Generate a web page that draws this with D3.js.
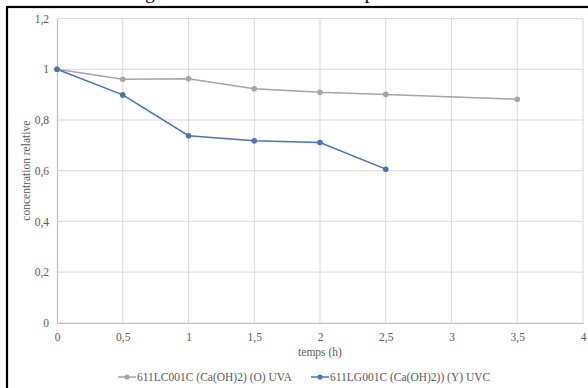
<!DOCTYPE html>
<html>
<head>
<meta charset="utf-8">
<script src="https://cdn.jsdelivr.net/npm/d3@7"></script>
<style>
  html, body { margin: 0; padding: 0; background: #fff; }
  svg { display: block; }
  svg text { font-family: "Liberation Serif", "Times New Roman", serif !important; fill: #595959; }
</style>
</head>
<body>
<svg id="chart" width="588" height="388"></svg>
<script>
// Series: relative concentration vs exposure time (h)
const timesUVA = [0, 0.5, 1, 1.5, 2, 2.5, 3.5];
const valuesUVA = [1, 0.961, 0.963, 0.923, 0.909, 0.901, 0.882];
const timesUVC = [0, 0.5, 1, 1.5, 2, 2.5];
const valuesUVC = [1, 0.899, 0.738, 0.718, 0.711, 0.606];
const seriesNames = ["611LC001C (Ca(OH)2) (O) UVA", "611LG001C (Ca(OH)2)) (Y) UVC"];
const seriesColors = ["#a5a5a5", "#4472c4"];
const xTicks = [0, 0.5, 1, 1.5, 2, 2.5, 3, 3.5, 4];
const yTicks = [0, 0.2, 0.4, 0.6, 0.8, 1, 1.2];

const svg = d3.select("#chart");
const W = 588, H = 388;
const plot = { left: 57, right: 583, top: 18.6, bottom: 322.8 };

const fmt = v => String(+v.toFixed(2)).replace(".", ",");

const x = d3.scaleLinear().domain([0, 4]).range([plot.left, plot.right]);
const y = d3.scaleLinear().domain([0, 1.2]).range([plot.bottom, plot.top]);

// chart frame
svg.append("rect").attr("x", 0).attr("y", 0).attr("width", W).attr("height", H).attr("fill", "#fff");
svg.append("rect")
  .attr("x", 7).attr("y", 7).attr("width", W + 10).attr("height", H + 10)
  .attr("fill", "none").attr("stroke", "#000").attr("stroke-width", 2.2);

// title (sits mostly above the visible frame)
svg.append("text")
  .attr("x", 123).attr("y", -1.5)
  .style("font-size", "19px").style("fill", "#000")
  .text("Dégradation en fonction du temps");

// gridlines
const grid = svg.append("g");
grid.selectAll("line.h").data(yTicks.filter(d => d > 0)).join("line")
  .attr("x1", plot.left).attr("x2", plot.right)
  .attr("y1", d => y(d)).attr("y2", d => y(d))
  .attr("stroke", "#d9d9d9").attr("stroke-width", 1);
grid.selectAll("line.v").data(xTicks.filter(d => d > 0)).join("line")
  .attr("y1", plot.top).attr("y2", plot.bottom)
  .attr("x1", d => x(d)).attr("x2", d => x(d))
  .attr("stroke", "#d9d9d9").attr("stroke-width", 1);

// axes
const xAxis = svg.append("g").attr("transform", `translate(0,${plot.bottom})`)
  .call(d3.axisBottom(x).tickValues(xTicks).tickSize(0).tickPadding(10).tickFormat(fmt))
  .attr("font-family", null).attr("font-size", null);
xAxis.select(".domain").attr("stroke", "#bfbfbf").attr("stroke-width", 1.2);
xAxis.selectAll("text").style("font-size", "11.5px").style("fill", "#595959");

const yAxis = svg.append("g").attr("transform", `translate(${plot.left},0)`)
  .call(d3.axisLeft(y).tickValues(yTicks).tickSize(0).tickPadding(8).tickFormat(fmt))
  .attr("font-family", null).attr("font-size", null);
yAxis.select(".domain").attr("stroke", "#bfbfbf").attr("stroke-width", 1.2);
yAxis.selectAll("text").style("font-size", "11.5px").style("fill", "#595959");

// axis titles
svg.append("text")
  .attr("x", (plot.left + plot.right) / 2).attr("y", 356)
  .attr("text-anchor", "middle").style("font-size", "11.5px")
  .text("temps (h)");
svg.append("text")
  .attr("transform", `translate(30,${(plot.top + plot.bottom) / 2}) rotate(-90)`)
  .attr("text-anchor", "middle").style("font-size", "11.5px")
  .text("concentration relative");

// series
const series = [
  { t: timesUVA, v: valuesUVA, color: seriesColors[0] },
  { t: timesUVC, v: valuesUVC, color: seriesColors[1] }
];
const line = d3.line().x(d => x(d[0])).y(d => y(d[1]));
series.forEach(s => {
  const pts = s.t.map((t, i) => [t, s.v[i]]);
  svg.append("path").datum(pts)
    .attr("fill", "none").attr("stroke", s.color).attr("stroke-width", 1.5)
    .attr("d", line);
  svg.append("g").selectAll("circle").data(pts).join("circle")
    .attr("cx", d => x(d[0])).attr("cy", d => y(d[1])).attr("r", 2.8)
    .attr("fill", s.color);
});

// legend
const legendY = 377;
const legendX = [118, 311];
seriesNames.forEach((name, i) => {
  const g = svg.append("g").attr("transform", `translate(${legendX[i]},${legendY})`);
  g.append("line").attr("x1", 0).attr("x2", 18).attr("y1", 0).attr("y2", 0)
    .attr("stroke", seriesColors[i]).attr("stroke-width", 1.5);
  g.append("circle").attr("cx", 9).attr("cy", 0).attr("r", 2.6).attr("fill", seriesColors[i]);
  g.append("text").attr("x", 19).attr("y", 4).style("font-size", "11.5px").text(name);
});
</script>
</body>
</html>
